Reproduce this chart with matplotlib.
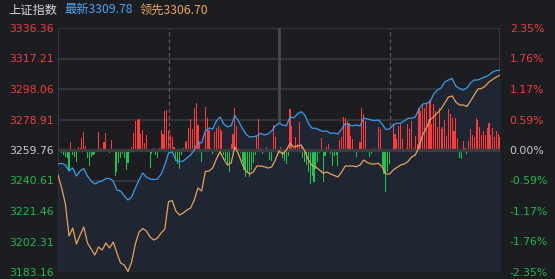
import matplotlib
matplotlib.use("Agg")
import matplotlib.pyplot as plt
import numpy as np

plt.rcParams['font.family'] = ['DejaVu Sans', 'Noto Sans CJK SC']

# ---------------- data ----------------
title_name = "上证指数"
last_label = "最新3309.78"
lead_label = "领先3306.70"

base_price = 3259.76
price_ticks = [3183.16, 3202.31, 3221.46, 3240.61, 3259.76, 3278.91, 3298.06, 3317.21, 3336.36]
price_tick_labels = ["3183.16", "3202.31", "3221.46", "3240.61", "3259.76",
                     "3278.91", "3298.06", "3317.21", "3336.36"]
pct_tick_labels = ["-2.35%", "-1.76%", "-1.17%", "-0.59%", "0.00%",
                   "0.59%", "1.17%", "1.76%", "2.35%"]

# sampled every 2 minutes (0..240)
line_minutes = list(range(0, 241, 2))
price_last = [
    3250.97, 3251.41, 3250.34, 3246.57, 3248.46, 3243.43, 3246.57, 3248.14, 3243.43, 3240.30,
    3238.41, 3239.67, 3240.30, 3241.86, 3241.86, 3240.30, 3234.64, 3234.02, 3230.88, 3228.36,
    3230.25, 3235.90, 3240.92, 3245.32, 3242.81, 3241.55, 3241.24, 3241.55, 3244.69, 3250.34,
    3257.88, 3258.50, 3253.48, 3252.41, 3252.85, 3254.74, 3256.62, 3259.76, 3264.78, 3264.16,
    3271.69, 3273.57, 3272.95, 3277.97, 3280.48, 3276.09, 3274.39, 3274.83, 3281.42, 3277.97,
    3273.57, 3269.81, 3267.92, 3268.11, 3268.55, 3270.25, 3269.18, 3269.81, 3271.69, 3274.83,
    3276.53, 3275.46, 3274.83, 3280.67, 3279.85, 3282.36, 3283.81, 3281.74, 3276.40, 3273.39,
    3273.39, 3272.32, 3271.38, 3271.69, 3270.12, 3270.43, 3269.81, 3272.95, 3276.40, 3275.46,
    3274.96, 3275.46, 3274.83, 3279.85, 3279.22, 3278.60, 3278.28, 3278.60, 3276.09, 3272.63,
    3272.95, 3275.46, 3276.53, 3276.53, 3277.97, 3279.66, 3279.66, 3280.48, 3285.50, 3288.64,
    3288.96, 3290.09, 3294.92, 3297.43, 3298.69, 3302.46, 3303.71, 3304.65, 3299.95, 3298.38,
    3297.43, 3298.69, 3301.83, 3303.71, 3303.71, 3304.78, 3305.60, 3306.85, 3308.74, 3309.68,
    3309.78,
]
price_lead = [
    3244.06, 3235.90, 3225.85, 3205.76, 3210.78, 3200.74, 3206.39, 3211.41, 3201.37, 3197.60,
    3193.83, 3198.85, 3196.97, 3201.37, 3198.23, 3201.99, 3195.09, 3188.81, 3187.55, 3183.47,
    3189.44, 3200.74, 3208.27, 3210.47, 3208.90, 3205.13, 3203.25, 3204.50, 3207.64, 3210.16,
    3227.30, 3228.05, 3221.46, 3218.95, 3220.20, 3222.09, 3223.34, 3228.36, 3235.90, 3234.02,
    3246.26, 3246.57, 3248.46, 3254.11, 3258.69, 3254.11, 3250.34, 3251.60, 3261.64, 3257.25,
    3250.97, 3246.57, 3244.69, 3245.95, 3249.71, 3249.71, 3249.27, 3248.46, 3249.09, 3253.48,
    3259.13, 3257.25, 3259.76, 3263.97, 3261.64, 3262.27, 3262.90, 3259.13, 3253.48, 3250.03,
    3249.09, 3247.20, 3245.13, 3245.95, 3244.69, 3243.75, 3242.81, 3245.95, 3249.71, 3249.71,
    3249.71, 3249.27, 3250.34, 3253.48, 3251.91, 3250.97, 3250.97, 3251.41, 3249.09, 3244.69,
    3244.69, 3247.20, 3248.77, 3250.34, 3250.97, 3252.54, 3255.36, 3256.62, 3261.64, 3269.18,
    3273.57, 3278.60, 3280.79, 3282.99, 3285.50, 3289.27, 3293.04, 3293.67, 3289.90, 3288.02,
    3288.02, 3287.07, 3290.53, 3294.29, 3298.06, 3298.38, 3299.95, 3302.46, 3304.03, 3305.60,
    3306.70,
]

# one bar per minute (0..240); positive = red, negative = green
bar_minutes = list(range(0, 241))
bar_values = [
    -1, -2, -3, -5, -7, -8, -20, 8, -5, -7,
    -12, 3, 2, 12, 18, 4, -8, -16, -7, -5,
    -4, -2, 18, 2, -2, 8, 17, -2, -3, 10,
    1, -26, -22, -13, -8, -4, -8, -20, -13, -3,
    3, 17, 29, 30, 31, 16, 20, 7, 15, -2,
    -18, -4, 2, -5, -8, 2, 20, 16, 39, 40,
    19, 15, 13, 3, -11, -14, -19, -5, 2, 8,
    9, 22, 31, 21, 42, 47, 25, 8, -12, 1,
    43, 32, 20, 2, -4, 18, 22, 24, 21, 19,
    -5, -10, -14, -22, 6, 16, 42, 24, 2, -3,
    -12, -20, -27, -22, -27, -20, -13, -5, 14, 31,
    2, -4, 1, 3, -2, -10, -11, 25, 13, 1,
    -3, 3, -8, -11, -14, -6, 41, 24, 2, 13,
    6, 28, 5, -8, -12, -15, -22, -34, -26, -32,
    -19, -12, -3, 12, -32, -6, 3, 6, -4, -16,
    -6, -5, -16, 10, 13, 33, 32, 29, 27, 14,
    11, 1, -7, 1, 8, 42, 36, 29, -2, -7,
    -4, 1, 2, 1, 23, 21, -16, -24, -42, -22,
    -14, -2, 27, 16, 11, 24, 26, 11, -1, 2,
    26, 21, 29, 2, 14, 6, 42, 39, 46, 42,
    47, 31, 50, 26, 46, 39, 23, 42, 21, 23,
    30, 14, 41, 36, 32, 19, 32, 12, -8, -9,
    9, 2, -4, 9, 21, 15, 13, 32, 30, 23,
    15, 19, 15, 22, 27, 15, 22, 13, 19, 16,
    13,
]

# ---------------- style ----------------
BG = "#1c1d21"
FILL = "#1f2631"
GRID = "#35373c"
RED = "#ff3a3a"
GREEN = "#1ec44f"
BLUE = "#3d9be9"
ORANGE = "#e3a25e"
LBL_RED = "#f03c3c"
LBL_GREEN = "#22b84e"
LBL_GRAY = "#c9ccd1"

W, H = 555, 279
fig = plt.figure(figsize=(W / 100, H / 100), dpi=100, facecolor=BG)
rect = [58 / W, 1 - 272 / H, (500 - 58) / W, (272 - 28) / H]

ax = fig.add_axes(rect)
ax.set_facecolor(BG)
ymin, ymax = price_ticks[0], price_ticks[-1]
ax.set_xlim(0, 240)
ax.set_ylim(ymin, ymax)

# grid
for t in price_ticks:
    ax.axhline(t, color=GRID, lw=1.3, zorder=0.5)
ax.axvline(0, color="#3b3d42", lw=1.3, zorder=0.5)
ax.axvline(240, color="#3b3d42", lw=1.3, zorder=0.5)
ax.axvline(120, color="#48494e", lw=2.0, zorder=0.5)
for xv in (60, 180):
    ax.axvline(xv, color="#55575c", lw=1.0, ls=(0, (3, 2)), zorder=0.5)

# fill under the latest-price line
ax.fill_between(line_minutes, price_last, ymin, color=FILL, lw=0, zorder=0.8)

for s in ax.spines.values():
    s.set_visible(False)
ax.tick_params(length=0)
ax.set_xticks([])
ax.set_yticks(price_ticks)
ax.set_yticklabels(price_tick_labels)
left_colors = [LBL_GREEN] * 4 + [LBL_GRAY] + [LBL_RED] * 4
for lab, c in zip(ax.get_yticklabels(), left_colors):
    lab.set_color(c)
    lab.set_fontsize(7.8)
ax.tick_params(axis="y", pad=3)

# right percentage axis
axp = ax.twinx()
axp.set_ylim(ymin, ymax)
axp.set_yticks(price_ticks)
axp.set_yticklabels(pct_tick_labels)
for lab, c in zip(axp.get_yticklabels(), left_colors):
    lab.set_color(c)
    lab.set_fontsize(7.8)
axp.tick_params(length=0, pad=7)
for s in axp.spines.values():
    s.set_visible(False)
axp.set_xticks([])

# bars axis (1 unit = 1 px)
axb = fig.add_axes(rect, sharex=ax)
axb.set_ylim(-122, 122)
axb.patch.set_alpha(0)
axb.axis("off")
vals = np.array(bar_values, dtype=float)
colors = [RED if v > 0 else GREEN for v in vals]
axb.bar(bar_minutes, vals, width=0.6, color=colors, lw=0, zorder=2, antialiased=False)
axb.axhline(0, color="#3a3c42", lw=2.4, zorder=3)

# lines axis
axl = fig.add_axes(rect, sharex=ax, sharey=ax)
axl.patch.set_alpha(0)
axl.axis("off")
axl.plot(line_minutes, price_lead, color=ORANGE, lw=0.9, zorder=4)
axl.plot(line_minutes, price_last, color=BLUE, lw=0.9, zorder=5)

# header
cjk = ['Noto Sans CJK SC', 'DejaVu Sans']
fig.text(8 / W, 1 - 10 / H, title_name, color="#d4d6da", fontsize=8.8, family=cjk, va="center")
fig.text(64 / W, 1 - 10 / H, last_label, color="#4aa5f2", fontsize=8.8, family=cjk, va="center")
fig.text(140 / W, 1 - 10 / H, lead_label, color="#e8a55c", fontsize=8.8, family=cjk, va="center")

fig.savefig("out.png", dpi=100, facecolor=BG)
